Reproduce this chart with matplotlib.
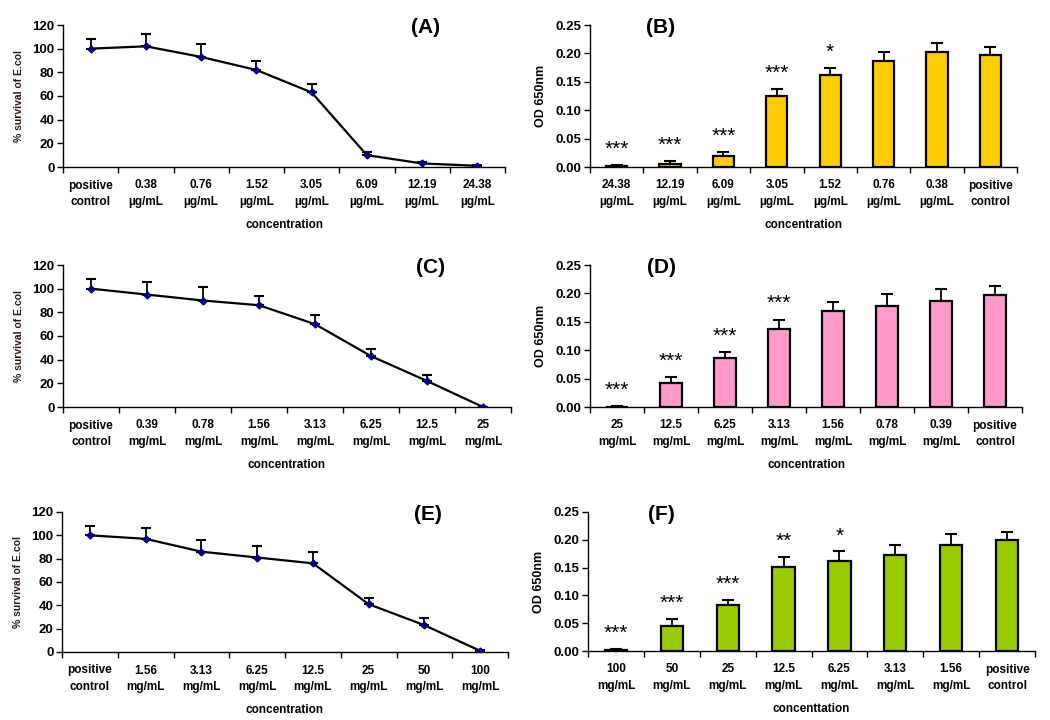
import matplotlib
matplotlib.use("Agg")
import matplotlib.pyplot as plt
import numpy as np
from matplotlib.ticker import FormatStrFormatter, FixedLocator

plt.rcParams['font.family'] = ['Liberation Sans', 'DejaVu Sans']
plt.rcParams['font.weight'] = 'bold'

# ---- data ----
a_labels = ["positive\ncontrol", "0.38\nµg/mL", "0.76\nµg/mL", "1.52\nµg/mL",
            "3.05\nµg/mL", "6.09\nµg/mL", "12.19\nµg/mL", "24.38\nµg/mL"]
a_vals = [100, 102, 93, 82, 63, 10, 3, 1]
a_err = [8, 10, 11, 7.5, 7, 3, 1, 0.5]

b_labels = ["24.38\nµg/mL", "12.19\nµg/mL", "6.09\nµg/mL", "3.05\nµg/mL",
            "1.52\nµg/mL", "0.76\nµg/mL", "0.38\nµg/mL", "positive\ncontrol"]
b_vals = [0.002, 0.006, 0.019, 0.125, 0.162, 0.186, 0.202, 0.197]
b_err = [0.001, 0.004, 0.007, 0.013, 0.013, 0.016, 0.017, 0.015]
b_stars = ["***", "***", "***", "***", "*", "", "", ""]

c_labels = ["positive\ncontrol", "0.39\nmg/mL", "0.78\nmg/mL", "1.56\nmg/mL",
            "3.13\nmg/mL", "6.25\nmg/mL", "12.5\nmg/mL", "25\nmg/mL"]
c_vals = [100, 95, 90, 86, 70, 43, 22, 0]
c_err = [8, 11, 11, 8, 7.5, 6, 5, 0.3]

d_labels = ["25\nmg/mL", "12.5\nmg/mL", "6.25\nmg/mL", "3.13\nmg/mL",
            "1.56\nmg/mL", "0.78\nmg/mL", "0.39\nmg/mL", "positive\ncontrol"]
d_vals = [0.0005, 0.043, 0.087, 0.138, 0.169, 0.178, 0.186, 0.197]
d_err = [0.0005, 0.010, 0.010, 0.016, 0.016, 0.021, 0.021, 0.016]
d_stars = ["***", "***", "***", "***", "", "", "", ""]

e_labels = ["positive\ncontrol", "1.56\nmg/mL", "3.13\nmg/mL", "6.25\nmg/mL",
            "12.5\nmg/mL", "25\nmg/mL", "50\nmg/mL", "100\nmg/mL"]
e_vals = [100, 97, 86, 81, 76, 41, 23, 1]
e_err = [8, 9, 10, 10, 10, 5, 6, 1]

f_labels = ["100\nmg/mL", "50\nmg/mL", "25\nmg/mL", "12.5\nmg/mL",
            "6.25\nmg/mL", "3.13\nmg/mL", "1.56\nmg/mL", "positive\ncontrol"]
f_vals = [0.001, 0.045, 0.082, 0.151, 0.161, 0.172, 0.191, 0.199]
f_err = [0.002, 0.012, 0.010, 0.018, 0.018, 0.018, 0.019, 0.015]
f_stars = ["***", "***", "***", "**", "*", "", "", ""]

panel_names = ["(A)", "(B)", "(C)", "(D)", "(E)", "(F)"]
x_titles = ["concentration", "concentration", "concentration", "concentration",
            "concentration", "concenttation"]

fig = plt.figure(figsize=(10.5, 7.2), dpi=100)

W, H = 1050.0, 720.0
def ax_at(x0, y0, x1, y1):
    return fig.add_axes([x0 / W, 1 - y1 / H, (x1 - x0) / W, (y1 - y0) / H])

axA = ax_at(63, 25, 505, 167)
axB = ax_at(590, 25, 1017, 167)
axC = ax_at(63, 265, 511, 407)
axD = ax_at(590, 265, 1022, 407)
axE = ax_at(62, 512, 508, 652)
axF = ax_at(588, 512, 1035, 651)

def style(ax, labels, xtitle):
    n = len(labels)
    ax.set_xlim(-0.5, n - 0.5)
    for s in ("top", "right"):
        ax.spines[s].set_visible(False)
    ax.spines["left"].set_linewidth(1.0)
    ax.spines["bottom"].set_linewidth(1.0)
    ax.set_xticks(np.arange(n))
    ax.set_xticklabels(labels, fontsize=8.5, fontweight='bold', linespacing=1.45)
    ax.tick_params(axis='x', which='major', length=0, pad=9)
    ax.xaxis.set_minor_locator(FixedLocator(np.arange(n + 1) - 0.5))
    ax.tick_params(axis='x', which='minor', length=4, direction='out', width=1)
    ax.tick_params(axis='y', length=4, direction='out', width=1, labelsize=9.5, pad=2)
    for t in ax.get_yticklabels():
        t.set_fontweight('bold')
    ax.set_xlabel(xtitle, fontsize=8.5, fontweight='bold', labelpad=8)

def line_panel(ax, labels, vals, err, name, xtitle):
    x = np.arange(len(vals))
    ax.errorbar(x, vals, yerr=[np.zeros(len(err)), err], fmt='none',
                ecolor='black', elinewidth=1.3, capsize=3.5, capthick=1.5, zorder=2)
    ax.plot(x, vals, color='black', lw=1.6, marker='D', markersize=3.5,
            markerfacecolor='#000080', markeredgecolor='#000080', zorder=3)
    ax.set_ylim(0, 120)
    ax.set_yticks(np.arange(0, 121, 20))
    style(ax, labels, xtitle)
    ax.set_ylabel("% survival of E.col", fontsize=7.5, fontweight='bold',
                  color='#2a1a10', labelpad=6)
    ax.text(0.82, 0.985, name, transform=ax.transAxes, fontsize=15,
            fontweight='bold', ha='center', va='center')

def bar_panel(ax, labels, vals, err, stars, color, name, xtitle):
    x = np.arange(len(vals))
    ax.bar(x, vals, width=0.4, color=color, edgecolor='black', linewidth=1.6, zorder=2)
    ax.errorbar(x, vals, yerr=[np.zeros(len(err)), err], fmt='none',
                ecolor='black', elinewidth=1.3, capsize=4, capthick=1.5, zorder=1)
    for xi, v, e, s in zip(x, vals, err, stars):
        if s:
            ax.text(xi, v + e + 0.011, s, ha='center', va='bottom',
                    fontsize=15, fontweight='normal')
    ax.set_ylim(0, 0.25)
    ax.set_yticks(np.arange(0, 0.251, 0.05))
    ax.yaxis.set_major_formatter(FormatStrFormatter('%.2f'))
    style(ax, labels, xtitle)
    ax.set_ylabel("OD 650nm", fontsize=9, fontweight='bold', labelpad=6)
    ax.text(0.165, 0.985, name, transform=ax.transAxes, fontsize=15,
            fontweight='bold', ha='center', va='center')

line_panel(axA, a_labels, a_vals, a_err, panel_names[0], x_titles[0])
bar_panel(axB, b_labels, b_vals, b_err, b_stars, '#FFCC00', panel_names[1], x_titles[1])
line_panel(axC, c_labels, c_vals, c_err, panel_names[2], x_titles[2])
bar_panel(axD, d_labels, d_vals, d_err, d_stars, '#FF99CC', panel_names[3], x_titles[3])
line_panel(axE, e_labels, e_vals, e_err, panel_names[4], x_titles[4])
bar_panel(axF, f_labels, f_vals, f_err, f_stars, '#99CC00', panel_names[5], x_titles[5])

fig.savefig("out.png", dpi=100)
